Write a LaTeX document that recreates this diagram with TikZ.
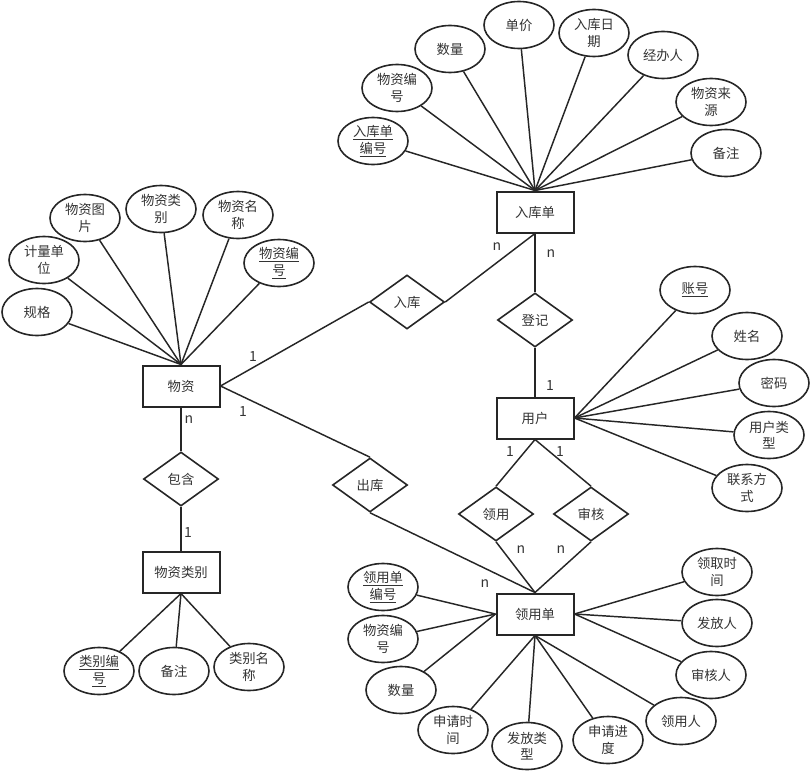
\documentclass[tikz,border=0pt]{standalone}
\usepackage{fontspec}
\setmainfont{Noto Sans CJK SC}
\usetikzlibrary{shapes.geometric}
\definecolor{txt}{HTML}{333333}
\tikzset{
  ent/.style={draw=black!85,line width=1.5pt,rectangle,minimum width=57.75pt,minimum height=30.75pt,inner sep=0pt,font=\fontsize{10}{12}\selectfont,text=txt},
  rel/.style={draw=black!85,line width=1.2pt,diamond,minimum width=56.25pt,minimum height=40.5pt,inner sep=0pt,font=\fontsize{10}{12}\selectfont,text=txt},
  attr/.style={draw=black!85,line width=1.2pt,ellipse,minimum width=52.5pt,minimum height=35.25pt,inner sep=0pt,align=center,font=\fontsize{10}{12.5}\selectfont,text=txt},
  conn/.style={draw=black!85,line width=1.1pt},
  card/.style={font=\fontsize{10.5}{12}\selectfont,text=txt,inner sep=0pt}
}
\begin{document}
\begin{tikzpicture}[x=0.75pt,y=-0.75pt]
\useasboundingbox (0,0) rectangle (810,774);
% entities
\node[ent] (rkd) at (535,212) {入库单};
\node[ent] (wz) at (181,386) {物资};
\node[ent] (yh) at (535,418) {用户};
\node[ent] (lyd) at (535,614) {领用单};
\node[ent] (wzlb) at (181,572) {物资类别};
% relations
\node[rel] (rk) at (407,302) {入库};
\node[rel] (dj) at (535,320) {登记};
\node[rel] (ck) at (370,485) {出库};
\node[rel] (ly) at (496,514) {领用};
\node[rel] (sh) at (591,514) {审核};
\node[rel] (bh) at (181,479) {包含};
% attributes of 入库单
\node[attr] (a1) at (373,141) {\underline{入库单}\\\underline{编号}};
\node[attr] (a2) at (397,88) {物资编\\号};
\node[attr] (a3) at (450,49) {数量};
\node[attr] (a4) at (519,25) {单价};
\node[attr] (a5) at (594,33) {入库日\\期};
\node[attr] (a6) at (663,55) {经办人};
\node[attr] (a7) at (711,102) {物资来\\源};
\node[attr] (a8) at (726,153) {备注};
\foreach \n in {a1,a2,a3,a4,a5,a6,a7,a8} \draw[conn] (rkd.north) -- (\n);
% attributes of 物资
\node[attr] (b1) at (37,312) {规格};
\node[attr] (b2) at (44,260) {计量单\\位};
\node[attr] (b3) at (85,218) {物资图\\片};
\node[attr] (b4) at (161,209) {物资类\\别};
\node[attr] (b5) at (238,215) {物资名\\称};
\node[attr] (b6) at (279,263) {\underline{物资编}\\\underline{号}};
\foreach \n in {b1,b2,b3,b4,b5,b6} \draw[conn] (wz.north) -- (\n);
% attributes of 用户
\node[attr] (c1) at (695,290) {\underline{账号}};
\node[attr] (c2) at (747,336) {姓名};
\node[attr] (c3) at (774,383) {密码};
\node[attr] (c4) at (769,435) {用户类\\型};
\node[attr] (c5) at (747,488) {联系方\\式};
\foreach \n in {c1,c2,c3,c4,c5} \draw[conn] (yh.east) -- (\n);
% attributes of 领用单
\node[attr] (d1) at (383,587) {\underline{领用单}\\\underline{编号}};
\node[attr] (d2) at (383,639) {物资编\\号};
\node[attr] (d3) at (401,690) {数量};
\node[attr] (d4) at (453,730) {申请时\\间};
\node[attr] (d5) at (527,746) {发放类\\型};
\node[attr] (d6) at (608,740) {申请进\\度};
\node[attr] (d7) at (681,721) {领用人};
\node[attr] (d8) at (711,675) {审核人};
\node[attr] (d9) at (717,623) {发放人};
\node[attr] (d10) at (717,572) {领取时\\间};
\foreach \n in {d1,d2,d3} \draw[conn] (lyd.west) -- (\n);
\foreach \n in {d4,d5,d6,d7} \draw[conn] (lyd.south) -- (\n);
\foreach \n in {d8,d9,d10} \draw[conn] (lyd.east) -- (\n);
% attributes of 物资类别
\node[attr] (e1) at (99,671) {\underline{类别编}\\\underline{号}};
\node[attr] (e2) at (174,671) {备注};
\node[attr] (e3) at (249,667) {类别名\\称};
\foreach \n in {e1,e2,e3} \draw[conn] (wzlb.south) -- (\n);
% relationship connectors
\draw[conn] (wz.east) -- (rk.west);
\draw[conn] (rk.east) -- (rkd.south);
\draw[conn] (rkd.south) -- (dj.north);
\draw[conn] (dj.south) -- (yh.north);
\draw[conn] (wz.east) -- (ck.north);
\draw[conn] (ck.south) -- (lyd.north);
\draw[conn] (yh.south) -- (ly.north);
\draw[conn] (ly.south) -- (lyd.north);
\draw[conn] (yh.south) -- (sh.north);
\draw[conn] (sh.south) -- (lyd.north);
\draw[conn] (wz.south) -- (bh.north);
\draw[conn] (bh.south) -- (wzlb.north);
% cardinalities
\node[card] (k1) at (253,357) {1};
\node[card] (k2) at (243,412) {1};
\node[card] (k3) at (189,420) {n};
\node[card] (k4) at (497,247) {n};
\node[card] (k5) at (551,254) {n};
\node[card] (k6) at (550,386) {1};
\node[card] (k7) at (510,452) {1};
\node[card] (k8) at (560,452) {1};
\node[card] (k9) at (521,550) {n};
\node[card] (k10) at (561,550) {n};
\node[card] (k11) at (485,584) {n};
\node[card] (k12) at (188,533) {1};
\end{tikzpicture}
\end{document}
